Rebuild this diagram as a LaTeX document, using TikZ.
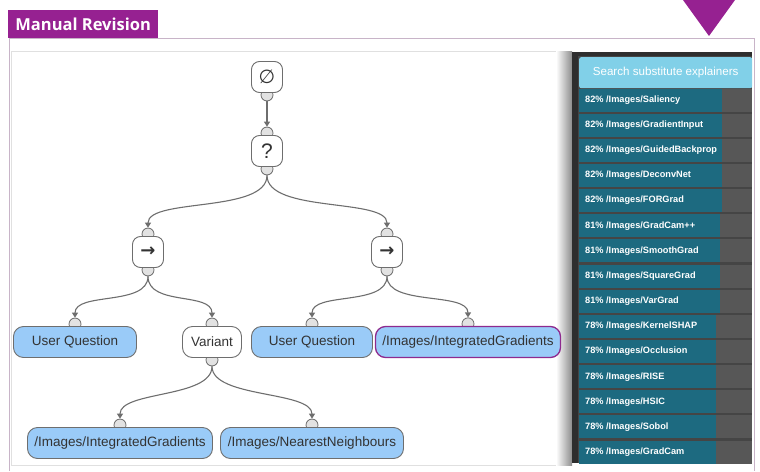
\documentclass[tikz,border=0pt]{standalone}
\usepackage{fontspec}
\setmainfont{Liberation Sans}
\newfontfamily\tabfont{Open Sans}
\newfontfamily\symfont{DejaVu Sans}
\usepackage{xcolor}
\usetikzlibrary{positioning,calc,arrows.meta,backgrounds}

\definecolor{tabpurple}{HTML}{962191}
\definecolor{framelin}{HTML}{C8B4C8}
\definecolor{nodeblue}{HTML}{9ACBF8}
\definecolor{nodeedge}{HTML}{6E6E6E}
\definecolor{portfill}{HTML}{E2E2E2}
\definecolor{paneldark}{HTML}{2E2E2E}
\definecolor{panelbg}{HTML}{454545}
\definecolor{rowgray}{HTML}{575757}
\definecolor{searchblue}{HTML}{81D0E8}
\definecolor{rowteal}{HTML}{1D6A80}
\definecolor{selpurple}{HTML}{8E2A8E}

\begin{document}
\begin{tikzpicture}[x=1pt,y=-1pt,
    op/.style={draw=nodeedge, fill=white, rounded corners=8pt, minimum width=31pt, minimum height=31pt, line width=0.9pt, inner sep=0pt, text=black!80},
    leaf/.style={draw=nodeedge, fill=nodeblue, rounded corners=10pt, minimum height=31pt, line width=0.9pt, inner xsep=0pt, text=black!80, font=\fontsize{13.5}{14}\selectfont},
    port/.style={circle, draw=nodeedge, fill=portfill, minimum size=12pt, inner sep=0pt, line width=0.8pt},
    link/.style={draw=nodeedge, line width=1.1pt, -{Triangle[length=5pt,width=6pt]}},
    rowtext/.style={anchor=west, inner sep=0pt, text=white, font=\fontsize{9.2}{10}\selectfont\bfseries}
]
    \useasboundingbox (0,0) rectangle (760,471);

    % frame and tab
    \draw [framelin, line width=1pt] (9,471) -- (9,38) -- (754,38) -- (754,471);
    \node [fill=tabpurple, anchor=south west, minimum width=150pt, minimum height=28pt, text=white, font=\tabfont\fontsize{16.5}{16.5}\selectfont\bfseries] (tab) at (8,38.5) {Manual Revision};
    \draw [black!12, line width=0.8pt] (11,465) -- (11,51) -- (572,51);
    \draw [black!12, line width=0.8pt] (11,465) -- (572,465);

    % explainer panel
    \shade [left color=white, right color=black!45] (556,51) rectangle (572,465);
    \fill [paneldark] (572,52) rectangle (752,463);
    \fill [panelbg] (578,56) rectangle (752,463);
    \node [fill=searchblue, rounded corners=2pt, minimum width=173pt, minimum height=31pt, anchor=north west, text=white, font=\fontsize{11.6}{11.6}\selectfont] (search) at (579,57) {Search substitute explainers};

    \foreach \i/\w/\pc/\name in {0/143/82/Saliency, 1/143/82/GradientInput, 2/143/82/GuidedBackprop, 3/143/82/DeconvNet, 4/143/82/FORGrad, 5/141/81/GradCam++, 6/141/81/SmoothGrad, 7/141/81/SquareGrad, 8/141/81/VarGrad, 9/137/78/KernelSHAP, 10/137/78/Occlusion, 11/137/78/RISE, 12/137/78/HSIC, 13/137/78/Sobol, 14/137/78/GradCam} {
        \pgfmathsetmacro{\ytop}{88.5+25.15*\i}
        \fill [rowgray] (579,\ytop) rectangle (752,\ytop+23);
        \fill [rowteal] (579,\ytop) rectangle (579+\w,\ytop+23);
        \node [rowtext] (row\i) at (585,\ytop+11.5) {\pc\%~/Images/\name};
    }

    % behaviour tree
    \node [op, font=\symfont\fontsize{19}{19}\selectfont] (empty) at (267,77) {∅};
    \node [op, font=\fontsize{21}{21}\selectfont] (ask) at (267,151) {?};
    \node [op, font=\symfont\bfseries\fontsize{18}{18}\selectfont] (seq1) at (148,252) {→};
    \node [op, font=\symfont\bfseries\fontsize{18}{18}\selectfont] (seq2) at (387,252) {→};

    \node [leaf, minimum width=123pt] (uq1) at (75,342) {User Question};
    \node [leaf, fill=white, minimum width=59pt] (var) at (212,342) {Variant};
    \node [leaf, minimum width=121pt] (uq2) at (312,342) {User Question};
    \node [leaf, minimum width=185pt, draw=selpurple, line width=1.3pt] (ig1) at (468,342) {/Images/IntegratedGradients};
    \node [leaf, minimum width=185pt] (ig2) at (120,443) {/Images/IntegratedGradients};
    \node [leaf, minimum width=183pt] (nn) at (312,443) {/Images/NearestNeighbours};

    % ports
    \begin{scope}[on background layer]
        \foreach \n in {empty,ask,seq1,seq2,var}
            \node [port] (\n-out) at ($(\n.south)+(0,2)$) {};
        \foreach \n in {ask,seq1,seq2,uq1,var,uq2,ig1,ig2,nn}
            \node [port] (\n-in) at ($(\n.north)+(0,-2)$) {};
    \end{scope}

    % links
    \draw [link] (empty-out.south) -- (ask-in.north);
    \draw [link] (ask-out.south) .. controls +(0,38) and +(0,-30) .. (seq1-in.north);
    \draw [link] (ask-out.south) .. controls +(0,38) and +(0,-30) .. (seq2-in.north);
    \draw [link] (seq1-out.south) .. controls +(0,30) and +(0,-26) .. (uq1-in.north);
    \draw [link] (seq1-out.south) .. controls +(0,30) and +(0,-26) .. (var-in.north);
    \draw [link] (seq2-out.south) .. controls +(0,30) and +(0,-26) .. (uq2-in.north);
    \draw [link] (seq2-out.south) .. controls +(0,30) and +(0,-26) .. (ig1-in.north);
    \draw [link] (var-out.south) .. controls +(0,32) and +(0,-28) .. (ig2-in.north);
    \draw [link] (var-out.south) .. controls +(0,32) and +(0,-28) .. (nn-in.north);

    % marker
    \fill [tabpurple] (683,0) -- (735,0) -- (709,36) -- cycle;
\end{tikzpicture}
\end{document}
